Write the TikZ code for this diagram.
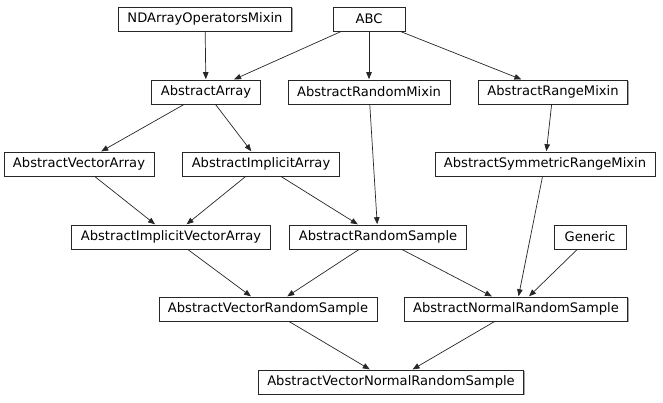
\documentclass[tikz,border=0pt]{standalone}
\usepackage{fontspec}
\setmainfont{DejaVu Sans}
\usetikzlibrary{arrows.meta, shadows}

\begin{document}
\begin{tikzpicture}[
        x=1pt, y=-1pt,
        cls/.style = {draw=black!85, fill=white, rectangle, line width=0.8pt, minimum height=24pt, minimum width=72pt, inner xsep=9pt, inner ysep=0pt,
            font=\fontsize{13.1}{15}\selectfont,
            general shadow={fill=black!35, shadow xshift=1.2pt, shadow yshift=-1.2pt}},
        inherit/.style = {draw=black!85, line width=0.7pt, -{Triangle[length=7pt, width=5.5pt]}, shorten >=0.4pt}
    ]
        \useasboundingbox (0,0) rectangle (663,403);

        % top row
        \node (ndops) [cls] at (205,19) {NDArrayOperatorsMixin};
        \node (abc) [cls] at (369,19) {ABC};

        \node (absarray) [cls] at (206,92) {AbstractArray};
        \node (randmixin) [cls] at (369,92) {AbstractRandomMixin};
        \node (rangemixin) [cls] at (553,92) {AbstractRangeMixin};

        \node (vecarray) [cls] at (79,164) {AbstractVectorArray};
        \node (implarray) [cls] at (261,164) {AbstractImplicitArray};
        \node (symrange) [cls] at (545,164) {AbstractSymmetricRangeMixin};

        \node (implvec) [cls] at (171,237) {AbstractImplicitVectorArray};
        \node (randsample) [cls] at (378,237) {AbstractRandomSample};
        \node (generic) [cls] at (590,237) {Generic};

        \node (vecrand) [cls] at (268,309) {AbstractVectorRandomSample};
        \node (normrand) [cls] at (516,309) {AbstractNormalRandomSample};

        \node (vecnormrand) [cls] at (391,382) {AbstractVectorNormalRandomSample};

        % inheritance edges
        \draw [inherit] (ndops) -- (absarray);
        \draw [inherit] (abc) -- (absarray);
        \draw [inherit] (abc) -- (randmixin);
        \draw [inherit] (abc) -- (rangemixin);
        \draw [inherit] (absarray) -- (vecarray);
        \draw [inherit] (absarray) -- (implarray);
        \draw [inherit] (rangemixin) -- (symrange);
        \draw [inherit] (vecarray) -- (implvec);
        \draw [inherit] (implarray) -- (implvec);
        \draw [inherit] (implarray) -- (randsample);
        \draw [inherit] (randmixin) -- (randsample);
        \draw [inherit] (implvec) -- (vecrand);
        \draw [inherit] (randsample) -- (vecrand);
        \draw [inherit] (randsample) -- (normrand);
        \draw [inherit] (symrange) -- (normrand);
        \draw [inherit] (generic) -- (normrand);
        \draw [inherit] (vecrand) -- (vecnormrand);
        \draw [inherit] (normrand) -- (vecnormrand);

    \end{tikzpicture}
\end{document}
